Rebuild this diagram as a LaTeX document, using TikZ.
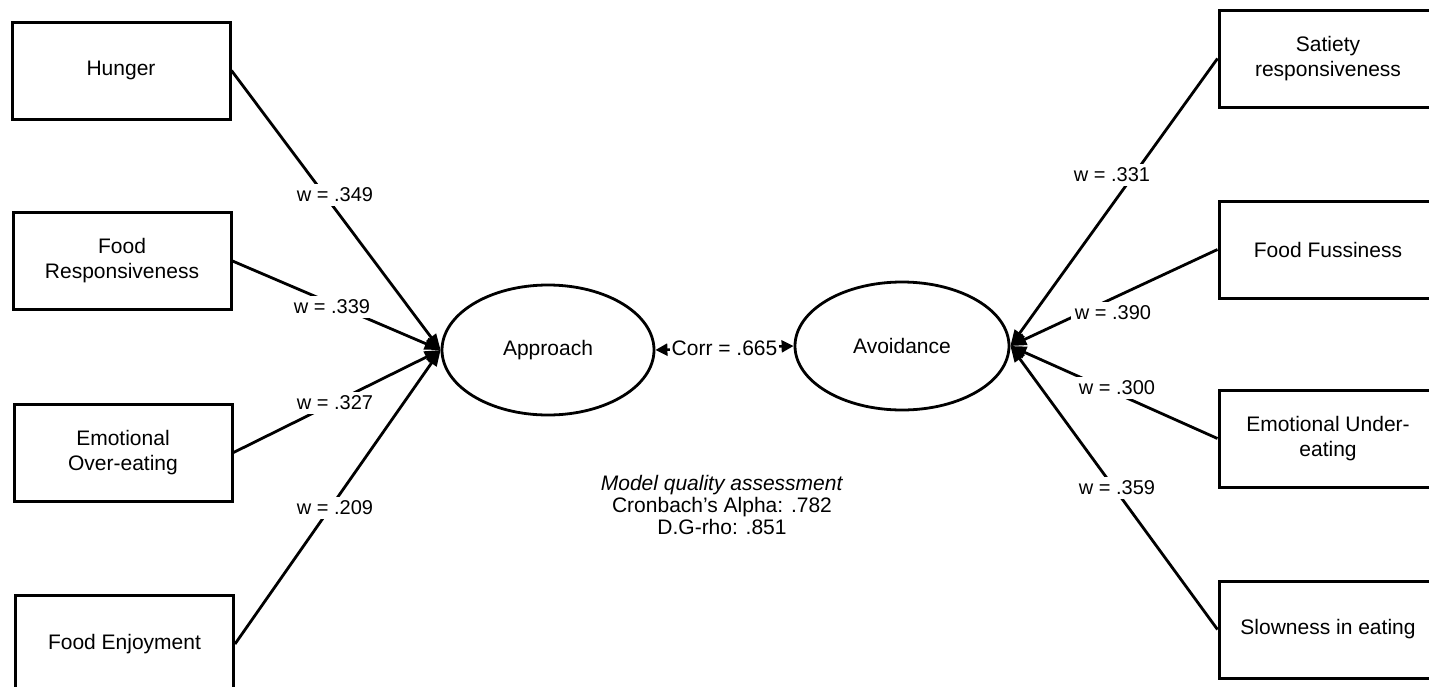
\documentclass[tikz,border=0pt]{standalone}
\usepackage{fontspec}
\setmainfont{Liberation Sans}
\usetikzlibrary{shapes.geometric,arrows.meta}
\begin{document}
\begin{tikzpicture}[x=0.5pt,y=-0.5pt,
  every node/.style={font=\fontsize{10.5}{12.5}\selectfont},
  box/.style={draw,line width=1.5pt,minimum width=109pt,minimum height=48.5pt,align=center,inner sep=0pt},
  latent/.style={draw,ellipse,line width=1.4pt,inner sep=0pt},
  link/.style={line width=1.4pt,-{Triangle[length=8pt,width=6pt]}},
  wlab/.style={fill=white,inner sep=2pt,font=\fontsize{10}{12}\selectfont},
  corr/.style={line width=1.3pt,{Triangle[length=6pt,width=6pt]}-{Triangle[length=6pt,width=6pt]}}
]
\useasboundingbox (0,0) rectangle (1429,686);

% latent variables
\node[latent,minimum width=106pt,minimum height=65pt] (app) at (548,350) {Approach};
\node[latent,minimum width=107pt,minimum height=64pt] (avo) at (902,346) {Avoidance};

% left indicators
\node[box] (hun) at (121,70.5) {Hunger};
\node[box] (fr)  at (122,261) {Food\\Responsiveness};
\node[box] (eo)  at (123,452.5) {Emotional\\Over-eating};
\node[box] (fe)  at (124.5,644) {Food Enjoyment};

% right indicators
\node[box] (sr)  at (1328,58.5) {Satiety\\responsiveness};
\node[box] (ff)  at (1328,249.5) {Food Fussiness};
\node[box] (eu)  at (1328,438.5) {Emotional Under-\\eating};
\node[box] (se)  at (1328,629.5) {Slowness in eating};

% connectors
\draw[link] (hun.east) -- (app.west);
\draw[link] (fr.east) -- (app.west);
\draw[link] (eo.east) -- (app.west);
\draw[link] (fe.east) -- (app.west);
\draw[link] (sr.west) -- (avo.east);
\draw[link] (ff.west) -- (avo.east);
\draw[link] (eu.west) -- (avo.east);
\draw[link] (se.west) -- (avo.east);

% weights
\node[wlab] (w1) at (335,195) {w = .349};
\node[wlab] (w2) at (332,307) {w = .339};
\node[wlab] (w3) at (335,403) {w = .327};
\node[wlab] (w4) at (335,508) {w = .209};
\node[wlab] (w5) at (1112,175) {w = .331};
\node[wlab] (w6) at (1113,313) {w = .390};
\node[wlab] (w7) at (1117,388) {w = .300};
\node[wlab] (w8) at (1117,488) {w = .359};

% correlation
\draw[corr] (app.east) -- node[fill=white,inner sep=1pt] (cr) {Corr = .665} (avo.west);

% model quality
\node[align=center,font=\fontsize{10.5}{11}\selectfont] (mq) at (722,505)
  {\textit{Model quality assessment}\\Cronbach's Alpha: .782\\D.G-rho: .851};
\end{tikzpicture}
\end{document}
